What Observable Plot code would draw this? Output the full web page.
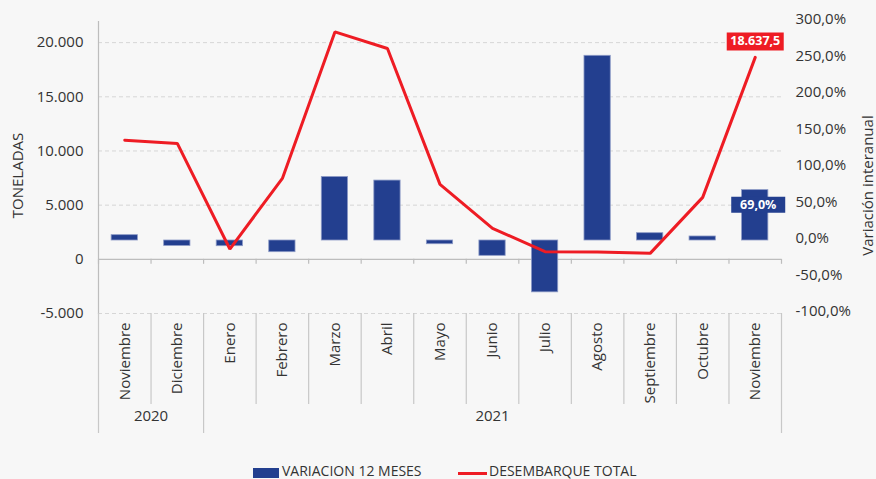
<!DOCTYPE html>
<html><head><meta charset="utf-8">
<script src="https://cdn.jsdelivr.net/npm/d3@7"></script>
<script src="https://cdn.jsdelivr.net/npm/@observablehq/plot@0.6"></script>
<style>
html,body{margin:0;padding:0;background:#f7f7f7;}
#chart{position:relative;width:876px;height:479px;background:#f7f7f7;font-family:"Open Sans",sans-serif;color:#333;overflow:hidden;}
#chart svg{display:block;}
.lg{position:absolute;font-size:14px;line-height:16px;white-space:nowrap;color:#333;}
</style>
</head><body><div id="chart"></div>
<script>
// ---- data ----
const months = ["Noviembre","Diciembre","Enero","Febrero","Marzo","Abril","Mayo","Junio","Julio","Agosto","Septiembre","Octubre","Noviembre"];
const years = [2020,2020,2021,2021,2021,2021,2021,2021,2021,2021,2021,2021,2021];
const desembarque = [11000,10700,950,7470,20990,19460,6920,2860,700,670,550,5720,18637.5]; // toneladas
const variacion = [7.3,-7.4,-7.8,-16.0,87.0,82.1,-5.1,-21.0,-71.0,253.0,10.0,5.5,69.0]; // % 12 meses
const leftTicks = [-5000,0,5000,10000,15000,20000];
const rightTicks = [-100,-50,0,50,100,150,200,250,300];
const seriesNames = ["VARIACION 12 MESES","DESEMBARQUE TOTAL"];

// ---- layout ----
const W = 876, H = 455, mL = 98, mR = 95, mT = 21, mB = 142;
const step = (W - mL - mR) / months.length;
const BLUE = "#233f8f", RED = "#ee1c24", AXIS = "#bdbdbd";

const Y0 = -5000, Y1 = 21950, R0 = -100, R1 = 300;
const toT = p => Y0 + (p - R0) / (R1 - R0) * (Y1 - Y0);
const toP = t => R0 + (t - Y0) / (Y1 - Y0) * (R1 - R0);

const keys = months.map((m, i) => years[i] + "-" + i);
const monthOf = new Map(keys.map((k, i) => [k, months[i]]));
const data = months.map((m, i) => ({key: keys[i], month: m, year: years[i], t: desembarque[i], p: variacion[i], base: toT(0), top: toT(variacion[i])}));

const loc = d3.formatLocale({decimal: ",", thousands: ".", grouping: [3], currency: ["", ""], minus: "-"});
const fmtT = loc.format(",.0f");
const fmtT1 = loc.format(",.1f");
const fmtP = p => loc.format(".1f")(p) + "%";

// groups of years
const groups = [];
data.forEach((d, i) => {
  if (!groups.length || groups[groups.length - 1].year !== d.year) groups.push({year: d.year, first: d.key, n: 0});
  groups[groups.length - 1].n++;
});
const monthBounds = data.filter((d, i) => i > 0 && years[i] === years[i - 1]);
const yearBounds = data.filter((d, i) => i === 0 || years[i] !== years[i - 1]);
const last = data[data.length - 1];

const box = (w, h) => ({draw(ctx) { ctx.moveTo(-w / 2, -h / 2); ctx.lineTo(w / 2, -h / 2); ctx.lineTo(w / 2, h / 2); ctx.lineTo(-w / 2, h / 2); ctx.closePath(); }});

const bottomPx = H - mB, topPx = mT;

const plot = Plot.plot({
  width: W, height: H,
  marginLeft: mL, marginRight: mR, marginTop: mT, marginBottom: mB,
  style: {background: "#f7f7f7", fontFamily: "Open Sans", fontSize: "15px", color: "#333"},
  x: {type: "band", domain: keys, paddingInner: 0.5, paddingOuter: 0.25, round: false},
  y: {domain: [Y0, Y1]},
  marks: [
    Plot.ruleY(leftTicks.filter(d => d !== 0), {y: d => d, stroke: "#d6d6d6", strokeDasharray: "4,3", strokeWidth: 1}),
    Plot.frame({anchor: "left", stroke: AXIS, strokeWidth: 1.2}),
    Plot.ruleY([0], {stroke: AXIS, strokeWidth: 1.3}),
    // ticks on category axis
    Plot.ruleX(data, {x: "key", y1: 0, y2: 0, dx: -step / 2, insetBottom: -5, stroke: AXIS, strokeWidth: 1.2}),
    Plot.ruleX([last], {x: "key", y1: 0, y2: 0, dx: step / 2, insetBottom: -5, stroke: AXIS, strokeWidth: 1.2}),
    // separators in label area
    Plot.ruleX(monthBounds, {x: "key", dx: -step / 2, insetTop: bottomPx - topPx, insetBottom: -(404 - bottomPx), stroke: "#c8c8c8", strokeWidth: 1.2}),
    Plot.ruleX(yearBounds, {x: "key", dx: -step / 2, insetTop: bottomPx - topPx, insetBottom: -(433 - bottomPx), stroke: "#c8c8c8", strokeWidth: 1.2}),
    Plot.ruleX([last], {x: "key", dx: step / 2, insetTop: bottomPx - topPx, insetBottom: -(433 - bottomPx), stroke: "#c8c8c8", strokeWidth: 1.2}),
    // bars (right axis, %)
    Plot.barY(data, {x: "key", y1: "base", y2: "top", fill: BLUE, stroke: "#8c9ac6", strokeWidth: 0.8}),
    // line (left axis, toneladas)
    Plot.line(data, {x: "key", y: "t", stroke: RED, strokeWidth: 3, strokeLinejoin: "miter"}),
    // labels
    Plot.dot([last], {x: "key", y: "t", symbol: box(57, 18), fill: RED, stroke: "none", dy: -16}),
    Plot.text([last], {x: "key", y: "t", text: d => fmtT1(d.t), dy: -16, fill: "white", fontWeight: "bold", fontSize: 12.5}),
    Plot.dot([last], {x: "key", y: "top", symbol: box(54, 16), fill: BLUE, stroke: "none", dy: 14.5, dx: 3}),
    Plot.text([last], {x: "key", y: "top", text: d => fmtP(d.p), dy: 14.5, dx: 3, fill: "white", fontWeight: "bold", fontSize: 12.5}),
    // axes
    Plot.axisY(leftTicks, {anchor: "left", tickSize: 0, tickPadding: 15, tickFormat: fmtT, fontSize: 15, label: null}),
    Plot.axisY(rightTicks.map(toT), {anchor: "right", tickSize: 0, tickPadding: 14, tickFormat: t => fmtP(Math.round(toP(t) * 10) / 10), fontSize: 15, dy: -2, label: null}),
    Plot.axisX(keys, {anchor: "bottom", tickSize: 0, tickPadding: 9, tickRotate: -90, tickFormat: k => monthOf.get(k), fontSize: 15, label: null}),
    ...groups.map(g => Plot.text([g], {x: "first", text: d => String(d.year), frameAnchor: "bottom", dy: 420.5 - bottomPx, dx: (g.n - 1) * step / 2, fontSize: 15})),
    Plot.text(["TONELADAS"], {frameAnchor: "left", textAnchor: "middle", dx: 17.5 - mL, dy: 175 - (mT + bottomPx) / 2, rotate: -90, fontSize: 15}),
    Plot.text(["Variación interanual"], {frameAnchor: "right", textAnchor: "middle", dx: 867.5 - (W - mR), dy: 185 - (mT + bottomPx) / 2, rotate: -90, fontSize: 15})
  ]
});

const chart = document.getElementById("chart");
chart.appendChild(plot);

// legend
const lg1 = document.createElement("div");
lg1.style.cssText = `position:absolute;left:253px;top:468px;width:26px;height:10px;background:${BLUE};`;
const t1 = document.createElement("div");
t1.className = "lg"; t1.style.left = "282px"; t1.style.top = "462.5px"; t1.textContent = seriesNames[0];
const lg2 = document.createElement("div");
lg2.style.cssText = `position:absolute;left:458px;top:471.5px;width:29px;height:3px;background:${RED};`;
const t2 = document.createElement("div");
t2.className = "lg"; t2.style.left = "489px"; t2.style.top = "462.5px"; t2.textContent = seriesNames[1];
[lg1, t1, lg2, t2].forEach(e => chart.appendChild(e));
</script>
</body></html>
